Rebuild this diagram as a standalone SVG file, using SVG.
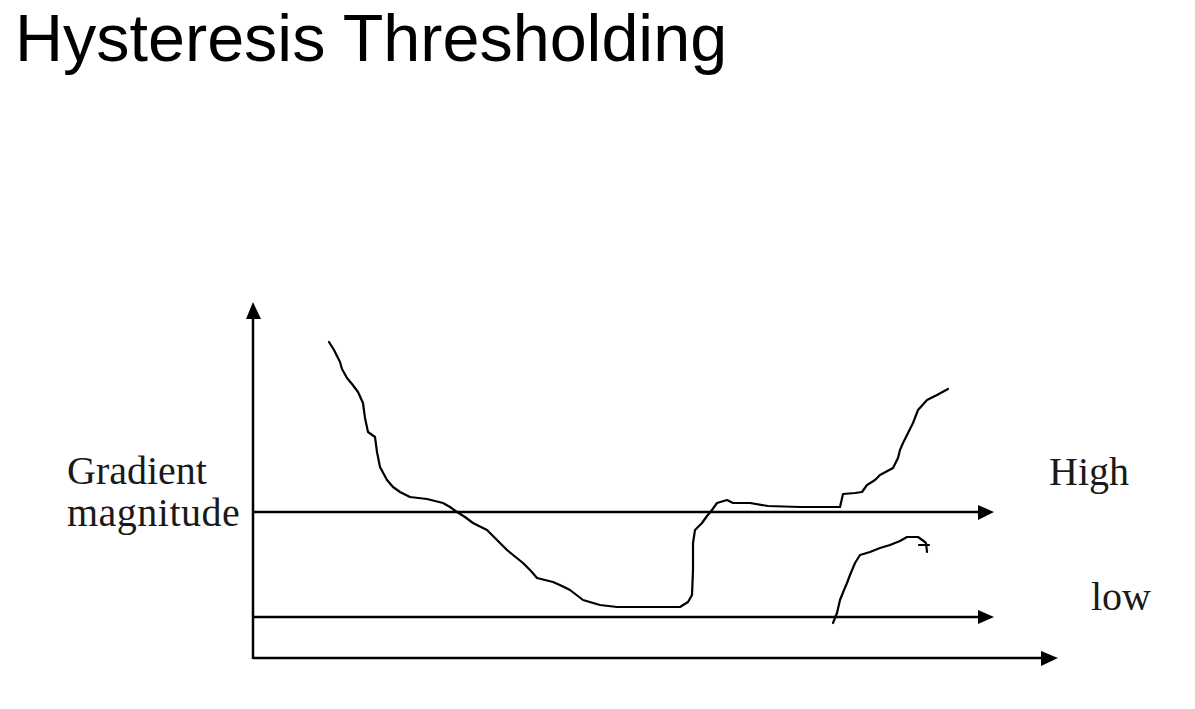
<svg xmlns="http://www.w3.org/2000/svg" width="1195" height="709" viewBox="0 0 1195 709">
<style>
.title{font-family:"Liberation Sans",Arial,sans-serif;font-size:66.5px;fill:#000}
.lbl{font-family:"Liberation Serif","Times New Roman",serif;font-size:40px;fill:#1a1a1a}
.ax{stroke:#000;stroke-width:2.5;fill:none}
.crv{stroke:#000;stroke-width:2.2;fill:none;stroke-linejoin:round;stroke-linecap:round}
.head{fill:#000}
</style>
<rect width="1195" height="709" fill="#fff"/>
<text class="title" x="15" y="61">Hysteresis Thresholding</text>
<g id="labels">
<text class="lbl" x="67" y="484">Gradient</text>
<text class="lbl" x="67" y="526" letter-spacing="0.5">magnitude</text>
<text class="lbl" x="1049" y="485">High</text>
<text class="lbl" x="1091" y="610">low</text>
</g>
<g id="connectors">
<line class="ax" x1="253" y1="316" x2="253" y2="659"/>
<polygon class="head" points="253,302 246,319 261,319"/>
<line class="ax" x1="253" y1="658" x2="1044" y2="658"/>
<polygon class="head" points="1058,658 1041,651 1041,666"/>
<line class="ax" x1="253" y1="512" x2="980" y2="512"/>
<polygon class="head" points="994,512 978,505 978,520"/>
<line class="ax" x1="253" y1="617" x2="980" y2="617"/>
<polygon class="head" points="994,617 978,610 978,624"/>
</g>
<g id="curve-main">
<path class="crv" d="M329,342 L334,350 L337,356 L340,362 L342,369 L347,378 L352,384 L358,392 L363,403 L365,418 L368,432 L375,437 L377,452 L380,467 L387,480 L393,487 L400,492 L410,497 L427,499 L443,503 L450,507 L457,512 L465,517 L473,523 L487,530 L497,540 L507,550 L523,563 L531,571 L537,578 L553,582 L562,586 L570,590 L583,600 L600,605 L617,607 L650,607 L680,607 L688,602 L692,595 L693,570 L693,543 L695,530 L702,523 L707,516 L712,510 L717,503 L727,500 L733,503 L750,503 L768,506 L800,507 L840,507 L843,494 L855,493 L862,492 L867,485 L875,480 L880,475 L893,468 L898,458 L900,450 L903,443 L908,433 L913,423 L918,410 L927,400 L937,395 L948,389"/>
</g>
<g id="curve-second">
<path class="crv" d="M833,623 L837,613 L840,600 L844,590 L847,583 L850,575 L855,563 L860,555 L870,552 L880,548 L890,545 L900,541 L907,537 L918,537 L925,542"/>
<path class="crv" d="M919,545 L929,545 M926,543 L927,552"/>
</g>
</svg>
